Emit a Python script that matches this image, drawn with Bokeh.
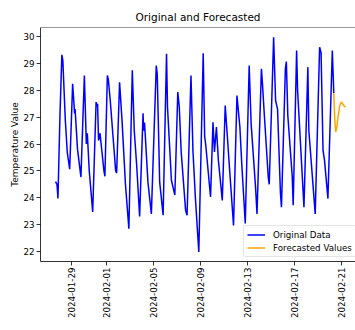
import math
import pandas as pd
from bokeh.plotting import figure
from bokeh.models import (ColumnDataSource, Range1d, FixedTicker, Span, Legend,
                          LegendItem, DatetimeTickFormatter, Label)
from bokeh.embed import file_html
from bokeh.resources import INLINE

# ---------------- data ----------------
START = "2024-01-27 00:00"   # hours below are counted from this moment

obs_hours = [16, 19, 21, 25, 29, 31, 36, 40, 45, 51, 55, 56, 61, 68, 75, 79, 81, 85,
             92, 99, 101, 102, 104, 107, 115, 117, 122, 124, 128, 139, 141, 147, 152,
             159, 166, 173, 177, 182, 188, 195, 196, 198, 205, 212, 222, 224, 229, 236,
             243, 245, 253, 260, 266, 269, 273, 282, 285, 293, 297, 302, 309, 318, 321,
             323, 333, 338, 341, 345, 349, 357, 363, 367, 371, 380, 387, 393, 397, 404,
             412, 416, 425, 428, 437, 439, 442, 451, 453, 459, 462, 466, 470, 476, 478,
             486, 488, 491, 500, 502, 509, 511, 524, 532, 534, 547, 556, 559, 563, 566,
             573, 582, 585]
obs_values = [24.6, 24.5, 23.97, 27.0, 29.32, 29.1, 26.9, 25.7, 25.06, 28.24, 27.14, 27.3,
              25.8, 24.77, 28.55, 26.0, 26.4, 25.0, 23.47, 27.56, 27.4, 27.5, 26.13, 26.4,
              25.0, 24.8, 28.55, 28.4, 27.6, 25.0, 24.92, 28.3, 26.88, 24.5, 22.85, 28.74,
              26.5, 25.2, 23.3, 27.14, 26.5, 26.8, 24.58, 23.4, 28.92, 28.6, 24.58, 23.35,
              29.36, 27.37, 24.65, 24.1, 27.93, 27.4, 25.7, 23.53, 23.35, 28.55, 25.76, 24.0,
              21.98, 29.38, 26.26, 26.0, 24.03, 26.81, 25.7, 26.63, 25.4, 23.9, 27.43, 26.38,
              25.3, 22.97, 27.8, 26.63, 25.2, 23.04, 28.92, 26.75, 24.4, 23.4, 28.8, 28.3,
              27.37, 24.77, 24.5, 28.12, 29.97, 27.62, 27.3, 24.15, 23.65, 28.8, 29.07, 27.06,
              24.8, 23.72, 29.48, 28.0, 23.65, 28.86, 26.5, 23.4, 29.6, 29.4, 25.76, 25.4,
              23.97, 29.48, 27.9]

fc_hours = [585, 587, 589, 591, 594, 597, 600, 603, 606, 609]
fc_values = [27.9, 26.9, 26.45, 26.6, 27.05, 27.4, 27.56, 27.5, 27.42, 27.38]

x_tick_labels = ["2024-01-29", "2024-02-01", "2024-02-05", "2024-02-09",
                 "2024-02-13", "2024-02-17", "2024-02-21"]
y_ticks = [22, 23, 24, 25, 26, 27, 28, 29, 30]

# ---------------- build ----------------
t0 = pd.Timestamp(START)
obs_src = ColumnDataSource(dict(t=[t0 + pd.Timedelta(hours=h) for h in obs_hours], v=obs_values))
fc_src = ColumnDataSource(dict(t=[t0 + pd.Timedelta(hours=h) for h in fc_hours], v=fc_values))

x_start = t0 + pd.Timedelta(hours=-14.7)
x_end = t0 + pd.Timedelta(hours=629.4)
y_start, y_end = 21.628, 30.335

FONT = "DejaVu Sans"

p = figure(width=355, height=330, x_axis_type="datetime",
           x_range=Range1d(x_start, x_end), y_range=Range1d(y_start, y_end),
           output_backend="svg", toolbar_location=None,
           min_border_left=40, min_border_right=0, min_border_top=27, min_border_bottom=69)

p.title.text = "Original and Forecasted"
p.title.align = "center"
p.title.text_font = FONT
p.title.text_font_size = "10.5px"
p.title.text_font_style = "normal"
p.title.text_color = "black"
p.title.offset = 2

r1 = p.line("t", "v", source=obs_src, line_color="blue", line_width=1.5)
r2 = p.line("t", "v", source=fc_src, line_color="orange", line_width=1.5)

p.xgrid.visible = False
p.ygrid.visible = False
p.outline_line_color = None
p.background_fill_color = "white"
p.border_fill_color = "white"

p.add_layout(Span(location=y_end, dimension="width", line_color="black", line_width=0.8))

xt = [pd.Timestamp(s).value // 10**6 for s in x_tick_labels]
p.xaxis.ticker = FixedTicker(ticks=xt)
fmt = "%Y-%m-%d"
p.xaxis.formatter = DatetimeTickFormatter(days=fmt, months=fmt, hours=fmt, years=fmt)
p.xaxis.major_label_orientation = math.pi / 2
p.yaxis.ticker = FixedTicker(ticks=y_ticks)

for ax in (p.xaxis[0], p.yaxis[0]):
    ax.axis_line_color = "black"
    ax.axis_line_width = 0.8
    ax.major_tick_line_color = "black"
    ax.major_tick_line_width = 0.8
    ax.major_tick_out = 4
    ax.major_tick_in = 0
    ax.minor_tick_out = 0
    ax.minor_tick_in = 0
    ax.major_label_text_font = FONT
    ax.major_label_text_font_size = "8.7px"
    ax.major_label_text_color = "black"
    ax.major_label_standoff = 2
    ax.axis_label_text_font = FONT
    ax.axis_label_text_font_size = "9px"
    ax.axis_label_text_font_style = "normal"
    ax.axis_label_text_color = "black"

p.yaxis.axis_label_standoff = 0
p.yaxis.axis_label = "Temperature Value"

time_label = Label(x=160, y=-57, x_units="screen", y_units="screen", text="Time",
                   text_align="center", text_baseline="top", text_font=FONT,
                   text_font_size="9px", text_color="black")
p.add_layout(time_label)

legend = Legend(items=[LegendItem(label="Original Data", renderers=[r1]),
                       LegendItem(label="Forecasted Values", renderers=[r2])],
                location=(203, 4))
legend.margin = 0
legend.padding = 3
legend.spacing = 2
legend.glyph_width = 18
legend.glyph_height = 11
legend.label_height = 11
legend.label_standoff = 8
legend.label_text_font = FONT
legend.label_text_font_size = "8.7px"
legend.label_text_color = "black"
legend.border_line_color = "#cccccc"
legend.border_line_width = 1
legend.background_fill_alpha = 0.8
legend.border_radius = 2
p.add_layout(legend)

open("out.html", "w").write(file_html(p, INLINE))
